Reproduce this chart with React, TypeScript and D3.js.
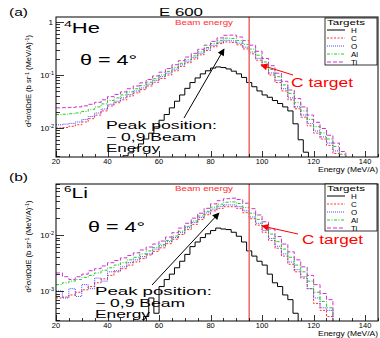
import React from 'react';
import * as d3 from 'd3';

// ---------- data ----------
const TARGETS = ['H', 'C', 'O', 'Al', 'Ti'];
const X_TICKS = [20, 40, 60, 80, 100, 120, 140];
const BEAM_ENERGY = 95;
const TARGET_BIN = 2.5;
const H_BIN = 2;

// panel (a) 4He — target bins (left edges, MeV/A)
const E_A = [20, 22.5, 25, 27.5, 30, 32.5, 35, 37.5, 40, 42.5, 45, 47.5, 50, 52.5, 55, 57.5, 60, 62.5, 65, 67.5, 70, 72.5, 75, 77.5, 80, 82.5, 85, 87.5, 90, 92.5, 95, 97.5, 100, 102.5, 105, 107.5, 110, 112.5, 115, 117.5, 120, 122.5, 125, 127.5, 130];
const C_A = [0.0100, 0.0102, 0.0108, 0.0115, 0.0130, 0.0150, 0.0175, 0.0210, 0.026, 0.030, 0.034, 0.040, 0.046, 0.053, 0.062, 0.073, 0.086, 0.100, 0.120, 0.145, 0.170, 0.200, 0.240, 0.290, 0.340, 0.390, 0.420, 0.410, 0.370, 0.310, 0.250, 0.190, 0.140, 0.100, 0.072, 0.050, 0.034, 0.023, 0.016, 0.011, 0.0080, 0.0062, 0.0047, 0.0033];
const O_A = [0.0115, 0.0118, 0.0122, 0.0130, 0.0145, 0.0165, 0.0192, 0.0228, 0.028, 0.032, 0.037, 0.043, 0.050, 0.057, 0.067, 0.079, 0.093, 0.108, 0.129, 0.155, 0.182, 0.214, 0.257, 0.310, 0.362, 0.415, 0.450, 0.440, 0.398, 0.335, 0.270, 0.206, 0.152, 0.109, 0.079, 0.055, 0.037, 0.025, 0.0176, 0.0121, 0.0088, 0.0068, 0.0052, 0.0037];
const AL_A = [0.0180, 0.0182, 0.0186, 0.0192, 0.0205, 0.0225, 0.0250, 0.0285, 0.033, 0.037, 0.042, 0.048, 0.055, 0.063, 0.073, 0.085, 0.100, 0.117, 0.139, 0.166, 0.195, 0.229, 0.274, 0.330, 0.390, 0.450, 0.495, 0.490, 0.445, 0.378, 0.308, 0.236, 0.176, 0.127, 0.093, 0.065, 0.045, 0.030, 0.021, 0.0145, 0.0106, 0.0081, 0.0062, 0.0045, 0.0032];
const TI_A = [0.0240, 0.0242, 0.0245, 0.0250, 0.0262, 0.0280, 0.0305, 0.0340, 0.039, 0.043, 0.048, 0.055, 0.062, 0.071, 0.082, 0.096, 0.113, 0.132, 0.156, 0.186, 0.218, 0.256, 0.305, 0.365, 0.430, 0.500, 0.560, 0.565, 0.520, 0.445, 0.365, 0.280, 0.205, 0.150, 0.108, 0.076, 0.052, 0.036, 0.025, 0.0175, 0.0128, 0.0098, 0.0073, 0.0052, 0.0036];
const H_E_A = [46, 48, 50, 52, 54, 56, 58, 60, 62, 64, 66, 68, 70, 72, 74, 76, 78, 80, 82, 84, 86, 88, 90, 92, 94, 96, 98, 100, 102, 104, 106, 108, 110, 112, 114, 116];
const H_A = [0.0030, 0.0034, 0.0042, 0.0050, 0.0062, 0.0080, 0.0105, 0.0140, 0.0180, 0.0240, 0.0320, 0.0420, 0.0560, 0.0720, 0.0880, 0.1050, 0.1200, 0.1350, 0.1420, 0.1380, 0.1300, 0.1180, 0.1050, 0.0900, 0.0720, 0.0600, 0.0500, 0.0420, 0.0380, 0.0330, 0.0290, 0.0250, 0.0210, 0.0120, 0.0060, 0.0035];

// panel (b) 6Li
const E_B = [20, 22.5, 25, 27.5, 30, 32.5, 35, 37.5, 40, 42.5, 45, 47.5, 50, 52.5, 55, 57.5, 60, 62.5, 65, 67.5, 70, 72.5, 75, 77.5, 80, 82.5, 85, 87.5, 90, 92.5, 95, 97.5, 100, 102.5, 105, 107.5, 110, 112.5, 115, 117.5, 120, 122.5, 125];
const C_B = [7.5e-4, 7.8e-4, 8.5e-4, 9.5e-4, 1.05e-3, 1.2e-3, 1.4e-3, 1.65e-3, 1.9e-3, 2.2e-3, 2.5e-3, 2.9e-3, 3.3e-3, 3.8e-3, 4.4e-3, 5.1e-3, 5.9e-3, 7.0e-3, 8.4e-3, 0.0102, 0.0125, 0.0155, 0.0190, 0.0230, 0.0270, 0.0300, 0.0320, 0.0320, 0.0300, 0.0250, 0.0195, 0.0150, 0.0112, 0.0080, 0.0058, 0.0042, 0.0030, 0.0022, 0.0017, 0.0011, 6.0e-4, 4.5e-4, 3.5e-4];
const O_B = [1.0e-3, 7.5e-4, 1.1e-3, 8.0e-4, 1.3e-3, 1.1e-3, 1.7e-3, 1.5e-3, 2.2e-3, 2.3e-3, 2.7e-3, 3.2e-3, 3.6e-3, 4.1e-3, 4.6e-3, 5.6e-3, 6.4e-3, 7.6e-3, 9.0e-3, 0.0110, 0.0135, 0.0168, 0.0205, 0.0248, 0.0290, 0.0325, 0.0345, 0.0345, 0.0322, 0.0270, 0.0210, 0.0162, 0.0120, 0.0087, 0.0063, 0.0046, 0.0033, 0.0024, 0.0018, 0.0011, 7.5e-4, 5.0e-4, 4.5e-4];
const AL_B = [1.3e-3, 1.4e-3, 1.5e-3, 1.6e-3, 1.75e-3, 1.9e-3, 2.1e-3, 2.35e-3, 2.6e-3, 2.9e-3, 3.2e-3, 3.6e-3, 4.0e-3, 4.6e-3, 5.2e-3, 6.0e-3, 6.8e-3, 8.0e-3, 9.6e-3, 0.0117, 0.0143, 0.0178, 0.0218, 0.0265, 0.0315, 0.0355, 0.0385, 0.0390, 0.0365, 0.0310, 0.0245, 0.0190, 0.0142, 0.0104, 0.0076, 0.0056, 0.0040, 0.0029, 0.0022, 0.0015, 9.5e-4, 6.5e-4, 5.0e-4];
const TI_B = [2.1e-3, 1.8e-3, 1.6e-3, 1.8e-3, 2.0e-3, 2.3e-3, 2.5e-3, 2.8e-3, 3.2e-3, 3.5e-3, 3.9e-3, 4.3e-3, 4.8e-3, 5.4e-3, 6.1e-3, 6.9e-3, 7.8e-3, 9.2e-3, 0.0110, 0.0133, 0.0162, 0.0200, 0.0245, 0.0300, 0.0360, 0.0410, 0.0445, 0.0455, 0.0430, 0.0370, 0.0295, 0.0228, 0.0172, 0.0128, 0.0094, 0.0069, 0.0050, 0.0036, 0.0027, 0.0019, 1.3e-3, 9.0e-4, 7.0e-4];
const H_E_B = [54, 56, 58, 60, 62, 64, 66, 68, 70, 72, 74, 76, 78, 80, 82, 84, 86, 88, 90, 92, 94, 96, 98, 100, 102, 104, 106, 108, 110, 112];
const H_B = [3.5e-4, 7.5e-4, 4.0e-4, 1.2e-3, 1.6e-3, 2.0e-3, 2.6e-3, 3.4e-3, 4.5e-3, 6.2e-3, 7.5e-3, 9.0e-3, 0.0105, 0.0120, 0.0133, 0.0128, 0.0125, 0.0112, 0.0095, 0.0075, 0.0052, 0.0042, 0.0034, 0.0029, 0.0020, 0.0014, 0.0012, 8.5e-4, 7.0e-4, 4.0e-4];

const PEAK_LINES = ['Peak position:', '− 0,9 Beam', 'Energy'];

// ---------- styles ----------
const STYLE: Record<string, { color: string; dash: string }> = {
  H: { color: '#000000', dash: '' },
  C: { color: '#ff3030', dash: '2,1.5' },
  O: { color: '#4848ff', dash: '1,1' },
  Al: { color: '#22cc22', dash: '3,1.5,1,1.5' },
  Ti: { color: '#d030d0', dash: '4,2' },
};
const FONT = 'Liberation Sans, Arial, Helvetica, sans-serif';
const L = 56, R = 378;

function histPath(edges: number[], vals: number[], w: number, x: any, y: any, y0: number, fromBottom: boolean) {
  let p = '';
  edges.slice(0, vals.length).forEach((e, i) => {
    const yy = y(vals[i]);
    if (i === 0) p += fromBottom ? `M${x(e)},${y0}V${yy}` : `M${x(e)},${yy}`;
    else p += `V${yy}`;
    p += `H${x(e + w)}`;
  });
  p += `V${y0}`;
  return p;
}

type PanelProps = {
  id: string; top: number; bottom: number; yDomain: [number, number];
  label: string; labelY: number; nucMass: string; nucName: string; nucW: number;
  series: { name: string; edges: number[]; vals: number[]; w: number; fromBottom: boolean }[];
  showTitle: boolean; beamY: number; arrow: [number, number, number, number];
  cArrow: [number, number, number, number]; cText: [number, number, number];
  peakText: [number, number]; peakW: number[]; nucPos: [number, number]; thetaPos: [number, number];
  legendTop: number; legendStep: number;
};

function Panel(p: PanelProps) {
  const x = d3.scaleLinear().domain([20, 145]).range([L, R]);
  const y = d3.scaleLog().domain(p.yDomain).range([p.bottom, p.top]).clamp(true);
  const yTicks = y.ticks();
  const xMinor = d3.range(20, 146, 5);
  const isMajorY = (v: number) => Math.abs(Math.log10(v) - Math.round(Math.log10(v))) < 1e-6;
  const clipId = `clip-${p.id}`;
  const lg = { x0: 325, x1: 377, top: p.legendTop };
  const legendBottom = lg.top + p.legendStep * 6 - 1;
  return (
    <g>
      <defs>
        <clipPath id={clipId}><rect x={L} y={p.top} width={R - L} height={p.bottom - p.top} /></clipPath>
        <marker id={`ab-${p.id}`} viewBox="0 0 10 10" refX="9" refY="5" markerWidth="8" markerHeight="7" orient="auto-start-reverse" markerUnits="userSpaceOnUse">
          <path d="M0,0L10,5L0,10z" fill="#000" />
        </marker>
        <marker id={`ar-${p.id}`} viewBox="0 0 10 10" refX="9" refY="5" markerWidth="8" markerHeight="7" orient="auto-start-reverse" markerUnits="userSpaceOnUse">
          <path d="M0,0L10,5L0,10z" fill="#ff0000" />
        </marker>
      </defs>
      <text x={9} y={p.labelY} fontSize={11.5} fontFamily={FONT} textLength={19} lengthAdjust="spacingAndGlyphs">{p.label}</text>
      {p.showTitle && <text x={159} y={16} fontSize={11.5} fontFamily={FONT} textLength={44} lengthAdjust="spacingAndGlyphs">E 600</text>}
      {/* histograms */}
      <g clipPath={`url(#${clipId})`}>
        {p.series.map(s => (
          <path key={s.name} d={histPath(s.edges, s.vals, s.w, x, y, p.bottom, s.fromBottom)}
            fill="none" stroke={STYLE[s.name].color} strokeWidth={1} strokeDasharray={STYLE[s.name].dash} />
        ))}
        <line x1={x(BEAM_ENERGY)} x2={x(BEAM_ENERGY)} y1={p.top} y2={p.bottom} stroke="#f07070" strokeWidth={1.6} />
      </g>
      {/* frame */}
      <rect x={L} y={p.top} width={R - L} height={p.bottom - p.top} fill="none" stroke="#000" strokeWidth={1} />
      {/* y ticks */}
      {yTicks.map((t, i) => {
        const yy = Math.round(y(t)) + 0.5;
        const maj = isMajorY(t);
        return <line key={i} x1={L} x2={L + (maj ? 8 : 4)} y1={yy} y2={yy} stroke="#000" strokeWidth={0.8} />;
      })}
      {yTicks.filter(isMajorY).map((t, i) => {
        const e = Math.round(Math.log10(t));
        const yy = y(t);
        if (e === 0) return <text key={i} x={53} y={yy + 3} fontSize={8} fontFamily={FONT} textAnchor="end">1</text>;
        return (
          <text key={i} x={54} y={yy + 3} fontSize={8} fontFamily={FONT} textAnchor="end">
            10<tspan dy={-3} fontSize={5.5}>{`-${-e}`}</tspan>
          </text>
        );
      })}
      {/* x ticks */}
      {xMinor.map((t, i) => {
        const xx = Math.round(x(t)) + 0.5;
        const maj = t % 20 === 0;
        return <line key={i} x1={xx} x2={xx} y1={p.bottom} y2={p.bottom - (maj ? 6 : 3)} stroke="#000" strokeWidth={0.8} />;
      })}
      {X_TICKS.map(t => (
        <text key={t} x={x(t)} y={p.bottom + 7} fontSize={7.5} fontFamily={FONT} textAnchor="middle">{t}</text>
      ))}
      <text x={318} y={p.bottom + 15} fontSize={7} fontFamily={FONT} textLength={60} lengthAdjust="spacingAndGlyphs">Energy (MeV/A)</text>
      {/* y title */}
      <text transform={`translate(31,${(p.top + p.bottom) / 2 - 6}) rotate(-90)`} fontSize={6.8} fontFamily={FONT} textAnchor="middle" textLength={92} lengthAdjust="spacingAndGlyphs">
        d<tspan dy={-2} fontSize={4.8}>2</tspan><tspan dy={2}>σ/dΩdE (b sr</tspan><tspan dy={-2} fontSize={4.8}>-1</tspan><tspan dy={2}> (MeV/A)</tspan><tspan dy={-2} fontSize={4.8}>-1</tspan><tspan dy={2}>)</tspan>
      </text>
      {/* annotations */}
      <text x={175} y={p.beamY} fontSize={6.5} fontFamily={FONT} fill="#ff3030" textLength={58} lengthAdjust="spacingAndGlyphs">Beam energy</text>
      <text x={p.nucPos[0]} y={p.nucPos[1]} fontSize={14} fontFamily={FONT} textLength={p.nucW} lengthAdjust="spacingAndGlyphs">
        <tspan fontSize={9} dy={-6}>{p.nucMass}</tspan><tspan dy={6}>{p.nucName}</tspan>
      </text>
      <text x={p.thetaPos[0]} y={p.thetaPos[1]} fontSize={14} fontFamily={FONT} textLength={57} lengthAdjust="spacingAndGlyphs">θ = 4°</text>
      {PEAK_LINES.map((s, i) => (
        <text key={i} x={p.peakText[0]} y={p.peakText[1] + i * 11.5} fontSize={10.5} fontFamily={FONT}
          textLength={p.peakW[i]} lengthAdjust="spacingAndGlyphs">{s}</text>
      ))}
      <line x1={p.arrow[0]} y1={p.arrow[1]} x2={p.arrow[2]} y2={p.arrow[3]} stroke="#000" strokeWidth={1} markerEnd={`url(#ab-${p.id})`} />
      <line x1={p.cArrow[0]} y1={p.cArrow[1]} x2={p.cArrow[2]} y2={p.cArrow[3]} stroke="#ff0000" strokeWidth={1} markerEnd={`url(#ar-${p.id})`} />
      <text x={p.cText[0]} y={p.cText[1]} fontSize={12.5} fontFamily={FONT} fill="#ff0000" textLength={p.cText[2]} lengthAdjust="spacingAndGlyphs">C target</text>
      {/* legend */}
      <rect x={lg.x0} y={lg.top} width={lg.x1 - lg.x0} height={legendBottom - lg.top} fill="#fff" stroke="#000" strokeWidth={0.8} />
      <text x={327} y={lg.top + 7} fontSize={8} fontFamily={FONT} textLength={38} lengthAdjust="spacingAndGlyphs">Targets</text>
      {TARGETS.map((t, i) => {
        const yy = lg.top + 12 + i * p.legendStep;
        return (
          <g key={t}>
            <line x1={327} x2={345} y1={yy} y2={yy} stroke={STYLE[t].color} strokeWidth={1} strokeDasharray={STYLE[t].dash} />
            <text x={351} y={yy + 3} fontSize={8} fontFamily={FONT}>{t}</text>
          </g>
        );
      })}
    </g>
  );
}

export default function App() {
  const seriesA = [
    { name: 'H', edges: H_E_A, vals: H_A, w: H_BIN, fromBottom: true },
    { name: 'C', edges: E_A, vals: C_A, w: TARGET_BIN, fromBottom: false },
    { name: 'O', edges: E_A, vals: O_A, w: TARGET_BIN, fromBottom: false },
    { name: 'Al', edges: E_A, vals: AL_A, w: TARGET_BIN, fromBottom: false },
    { name: 'Ti', edges: E_A, vals: TI_A, w: TARGET_BIN, fromBottom: false },
  ];
  const seriesB = [
    { name: 'H', edges: H_E_B, vals: H_B, w: H_BIN, fromBottom: true },
    { name: 'C', edges: E_B, vals: C_B, w: TARGET_BIN, fromBottom: false },
    { name: 'O', edges: E_B, vals: O_B, w: TARGET_BIN, fromBottom: false },
    { name: 'Al', edges: E_B, vals: AL_B, w: TARGET_BIN, fromBottom: false },
    { name: 'Ti', edges: E_B, vals: TI_B, w: TARGET_BIN, fromBottom: false },
  ];
  return (
    <svg width={380} height={338} style={{ position: 'absolute', left: 0, top: 0, background: '#fff' }}>
      <Panel id="a" top={17} bottom={157} yDomain={[0.00284, 1.24]} label="(a)" labelY={16} nucMass="4" nucName="He" nucW={36}
        series={seriesA} showTitle={true} beamY={25} arrow={[184, 118, 224, 49]}
        cArrow={[293, 75, 261, 65]} cText={[291, 87, 62]} peakText={[106, 129]} peakW={[111, 90, 54]}
        nucPos={[64, 33]} thetaPos={[80, 65]} legendTop={18} legendStep={8} />
      <Panel id="b" top={184} bottom={321} yDomain={[2.91e-4, 0.0815]} label="(b)" labelY={181} nucMass="6" nucName="Li" nucW={24}
        series={seriesB} showTitle={false} beamY={191} arrow={[152, 285, 219, 213]}
        cArrow={[298, 234, 262, 226]} cText={[302, 244, 61]} peakText={[95, 295]} peakW={[117, 90, 55]}
        nucPos={[64, 198]} thetaPos={[88, 232]} legendTop={184} legendStep={8} />
    </svg>
  );
}
